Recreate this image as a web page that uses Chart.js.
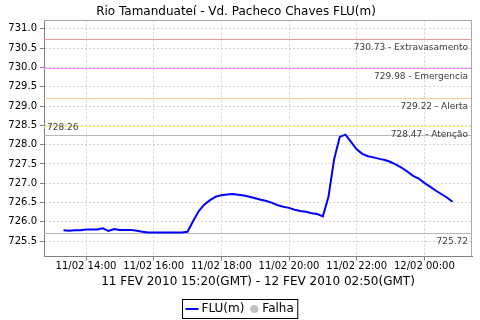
<!DOCTYPE html>
<html>
<head>
<meta charset="utf-8">
<script src="https://cdn.jsdelivr.net/npm/chart.js@4"></script>
<style>
  html, body { margin: 0; padding: 0; background: #fff; }
  #wrap { width: 480px; height: 320px; }
</style>
</head>
<body>
<div id="wrap"><canvas id="fluChart" width="480" height="320"></canvas></div>
<script>
const chartTitle = "Rio Tamanduateí - Vd. Pacheco Chaves FLU(m)";
const axisTitle = "11 FEV 2010 15:20(GMT) - 12 FEV 2010 02:50(GMT)";
const seriesLabel = "FLU(m)";
const failLabel = "Falha";

// leituras a cada 10 min (hora local)
const times = [
  "11/02 13:20","11/02 13:30","11/02 13:40","11/02 13:50",
  "11/02 14:00","11/02 14:10","11/02 14:20","11/02 14:30","11/02 14:40","11/02 14:50",
  "11/02 15:00","11/02 15:10","11/02 15:20","11/02 15:30","11/02 15:40","11/02 15:50",
  "11/02 16:00","11/02 16:10","11/02 16:20","11/02 16:30","11/02 16:40","11/02 16:50",
  "11/02 17:00","11/02 17:10","11/02 17:20","11/02 17:30","11/02 17:40","11/02 17:50",
  "11/02 18:00","11/02 18:10","11/02 18:20","11/02 18:30","11/02 18:40","11/02 18:50",
  "11/02 19:00","11/02 19:10","11/02 19:20","11/02 19:30","11/02 19:40","11/02 19:50",
  "11/02 20:00","11/02 20:10","11/02 20:20","11/02 20:30","11/02 20:40","11/02 20:50",
  "11/02 21:00","11/02 21:10","11/02 21:20","11/02 21:30","11/02 21:40","11/02 21:50",
  "11/02 22:00","11/02 22:10","11/02 22:20","11/02 22:30","11/02 22:40","11/02 22:50",
  "11/02 23:00","11/02 23:10","11/02 23:20","11/02 23:30","11/02 23:40","11/02 23:50",
  "12/02 00:00","12/02 00:10","12/02 00:20","12/02 00:30","12/02 00:40","12/02 00:50"
];
const flu = [
  725.78, 725.77, 725.78, 725.78, 725.80, 725.80, 725.80, 725.83, 725.76, 725.81,
  725.79, 725.79, 725.79, 725.77, 725.74, 725.72, 725.72, 725.72, 725.72, 725.72,
  725.72, 725.72, 725.74, 726.02, 726.28, 726.45, 726.56, 726.65, 726.69, 726.71,
  726.72, 726.70, 726.68, 726.65, 726.61, 726.57, 726.54, 726.49, 726.43, 726.39,
  726.36, 726.31, 726.28, 726.26, 726.22, 726.20, 726.14, 726.65, 727.62, 728.20,
  728.26, 728.07, 727.88, 727.76, 727.70, 727.67, 727.63, 727.60, 727.55, 727.48,
  727.40, 727.30, 727.19, 727.12, 727.01, 726.91, 726.81, 726.72, 726.63, 726.52
];

const tickLabels = ["11/02 14:00","11/02 16:00","11/02 18:00","11/02 20:00","11/02 22:00","12/02 00:00"];

const markerValues = [730.73, 729.98, 729.22, 728.47];
const markerNames = ["Extravasamento", "Emergencia", "Alerta", "Atenção"];
const markerColors = ["#f29a9a", "#ff88ff", "#ffcb96", "#fff08a"];
const maxValue = 728.26;
const minValue = 725.72;

const yMin = 725.1, yMax = 731.22;

function toHours(s) {
  const day = parseInt(s.slice(0, 2), 10);
  const hh = parseInt(s.slice(6, 8), 10);
  const mm = parseInt(s.slice(9, 11), 10);
  return (day - 11) * 24 + hh + mm / 60;
}

const xs = times.map(toHours);
const span = xs[xs.length - 1] - xs[0];
const xMin = xs[0] - span * 0.05;
const xMax = xs[xs.length - 1] + span * 0.05;
const tickHours = tickLabels.map(toHours);

const points = xs.map((x, i) => ({ x: x, y: flu[i] }));

const FONT = "'DejaVu Sans', sans-serif";

const markersPlugin = {
  id: "markers",
  beforeDatasetsDraw(chart) {
    const { ctx, chartArea: a, scales: { y } } = chart;
    ctx.save();
    ctx.lineWidth = 1;
    markerValues.forEach((v, i) => {
      const py = Math.round(y.getPixelForValue(v)) + 0.5;
      ctx.strokeStyle = markerColors[i];
      ctx.beginPath(); ctx.moveTo(a.left, py); ctx.lineTo(a.right, py); ctx.stroke();
    });
    [maxValue, minValue].forEach(v => {
      const py = Math.round(y.getPixelForValue(v)) + 0.5;
      ctx.strokeStyle = "#b8b8b8";
      ctx.beginPath(); ctx.moveTo(a.left, py); ctx.lineTo(a.right, py); ctx.stroke();
    });
    ctx.restore();
  },
  afterDatasetsDraw(chart) {
    const { ctx, chartArea: a, scales: { y } } = chart;
    ctx.save();
    ctx.font = "9px " + FONT;
    ctx.fillStyle = "#404040";
    ctx.textBaseline = "alphabetic";
    ctx.textAlign = "right";
    markerValues.forEach((v, i) => {
      const py = y.getPixelForValue(v);
      ctx.fillText(v.toFixed(2) + " - " + markerNames[i], a.right - 4, py + 11);
    });
    ctx.fillText(minValue.toFixed(2), a.right - 4, y.getPixelForValue(minValue) + 11);
    ctx.textAlign = "left";
    ctx.fillText(maxValue.toFixed(2), a.left + 3, y.getPixelForValue(maxValue) - 5);
    // moldura do plot
    ctx.strokeStyle = "#a8a8a8";
    ctx.beginPath();
    ctx.moveTo(a.left, Math.round(a.top) + 0.5);
    ctx.lineTo(a.right - 0.5, Math.round(a.top) + 0.5);
    ctx.lineTo(a.right - 0.5, a.bottom);
    ctx.stroke();
    ctx.restore();
  },
  afterDraw(chart) {
    const { ctx } = chart;
    ctx.save();
    ctx.font = "12px " + FONT;
    const w1 = ctx.measureText(seriesLabel).width;
    const w2 = ctx.measureText(failLabel).width;
    const boxW = 4 + 12 + 3 + w1 + 6 + 8 + 4 + w2 + 4;
    const left = Math.round(240 - boxW / 2) + 0.5;
    const top = 299.5, boxH = 19;
    const cy = top + boxH / 2;
    ctx.strokeStyle = "#000";
    ctx.lineWidth = 1;
    ctx.strokeRect(left, top, boxW, boxH);
    let x = left + 3;
    ctx.strokeStyle = "#0000ff";
    ctx.lineWidth = 2;
    ctx.beginPath(); ctx.moveTo(x, cy); ctx.lineTo(x + 13, cy); ctx.stroke();
    x += 16;
    ctx.fillStyle = "#000";
    ctx.textBaseline = "middle";
    ctx.fillText(seriesLabel, x, cy);
    x += w1 + 6 + 4;
    ctx.fillStyle = "#c0c0c0";
    ctx.beginPath(); ctx.arc(x, cy, 4, 0, Math.PI * 2); ctx.fill();
    x += 8;
    ctx.fillStyle = "#000";
    ctx.fillText(failLabel, x, cy);
    ctx.restore();
  }
};

new Chart(document.getElementById("fluChart"), {
  type: "line",
  data: {
    datasets: [{
      label: seriesLabel,
      data: points,
      borderColor: "#0000ff",
      backgroundColor: "#0000ff",
      borderWidth: 2,
      pointRadius: 0,
      tension: 0,
      fill: false
    }]
  },
  options: {
    responsive: false,
    animation: false,
    devicePixelRatio: 1,
    layout: { padding: { top: 0, right: 8, bottom: 31, left: 0 } },
    plugins: {
      legend: { display: false },
      tooltip: { enabled: false },
      title: {
        display: true,
        text: chartTitle,
        color: "#000",
        font: { family: FONT, size: 12, weight: "normal" },
        padding: { top: 5, bottom: 1 }
      }
    },
    scales: {
      x: {
        type: "linear",
        min: xMin,
        max: xMax,
        afterBuildTicks: s => { s.ticks = tickHours.map(v => ({ value: v })); },
        afterFit: s => { s.height = 32.5; },
        ticks: {
          autoSkip: false,
          maxRotation: 0,
          padding: 0,
          color: "#000",
          font: { family: FONT, size: 10 },
          callback: (v, i) => tickLabels[i]
        },
        grid: {
          color: "#d4d4d4",
          tickColor: "#808080",
          tickLength: 4,
          tickBorderDash: []
        },
        border: { display: true, color: "#808080", dash: [2, 2] },
        title: {
          display: true,
          text: axisTitle,
          color: "#000",
          font: { family: FONT, size: 12 },
          padding: 0
        }
      },
      y: {
        min: yMin,
        max: yMax,
        afterFit: s => { s.width = 44; },
        ticks: {
          stepSize: 0.5,
          includeBounds: false,
          padding: 3,
          color: "#000",
          font: { family: FONT, size: 10 },
          callback: v => Number(v).toFixed(1)
        },
        grid: {
          color: "#d4d4d4",
          tickColor: "#808080",
          tickLength: 4,
          tickBorderDash: []
        },
        border: { display: true, color: "#808080", dash: [2, 2] }
      }
    }
  },
  plugins: [markersPlugin]
});
</script>
</body>
</html>
